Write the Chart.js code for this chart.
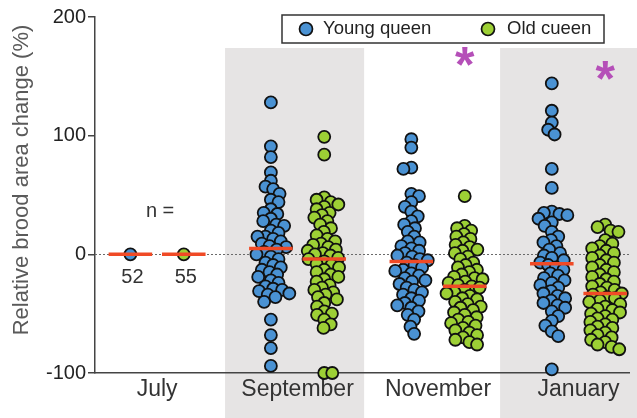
<!DOCTYPE html>
<html>
<head>
<meta charset="utf-8">
<script src="https://cdn.jsdelivr.net/npm/chart.js@4.4.1/dist/chart.umd.min.js"></script>
<style>
html,body{margin:0;padding:0;background:#fff;}
#wrap{width:637px;height:418px;position:relative;}
</style>
</head>
<body>
<div id="wrap"><canvas id="c" width="637" height="418"></canvas></div>
<script>
// ---- data ----
const months = ['July', 'September', 'November', 'January'];
const seriesNames = ['Young queen', 'Old cueen'];
const nLabels = ['52', '55'];
const significant = [false, false, true, true]; // asterisk above old-queen group
const yTicks = [-100, 0, 100, 200];

const youngJuly = [0];
const oldJuly = [0];
const youngSep = [128, 91, 82, 69, 62, 57, 55, 51, 46, 44, 38, 35, 34, 30, 28, 25, 24, 20, 18, 15, 15, 13, 11, 9, 7, 6,
  4, 2, 0, -2, -4, -7, -9, -11, -13, -15, -17, -19, -22, -24, -27, -29, -30, -31, -33, -34, -36, -40, -55, -68, -79, -94];
const oldSep = [99, 84, 48, 46, 44, 42, 40, 38, 35, 33, 31, 28, 25, 22, 19, 16, 13, 11, 9, 8, 6, 4, 3, 1, 0, -1, -3, -4,
  -6, -8, -9, -11, -13, -15, -17, -19, -21, -23, -26, -28, -30, -32, -34, -36, -38, -41, -44, -48, -50, -51, -55, -59, -62, -100, -100];
const youngNov = [97, 90, 73, 72, 51, 49, 44, 40, 36, 32, 28, 25, 22, 19, 15, 11, 10, 7, 5, 3, 1, -1, -2, -4, -5,
  -7, -9, -11, -13, -14, -16, -18, -20, -22, -23, -25, -28, -30, -32, -34, -37, -39, -41, -43, -45, -48, -51, -55, -61, -67];
const oldNov = [49, 24, 22, 20, 17, 15, 13, 10, 8, 6, 4, 3, 1, -2, -4, -7, -9, -11, -13, -15, -17, -19, -20, -21, -23, -24, -26, -27,
  -28, -30, -32, -33, -35, -37, -38, -40, -42, -44, -45, -47, -49, -51, -53, -55, -57, -58, -60, -62, -64, -66, -68, -70, -72, -74, -76];
const youngJan = [144, 121, 111, 105, 101, 72, 56, 36, 35, 34, 33, 30, 27, 24, 19, 15, 12, 10, 7, 4, 1, -1, -3, -5, -7,
  -9, -11, -13, -16, -18, -20, -22, -24, -26, -28, -31, -33, -35, -37, -39, -41, -43, -45, -48, -52, -56, -60, -65, -69, -97];
const oldJan = [25, 23, 20, 19, 12, 9, 7, 5, 3, 1, -1, -3, -5, -7, -9, -11, -13, -15, -17, -19, -21, -23, -25, -27, -28, -30, -32, -33,
  -34, -36, -37, -39, -40, -42, -44, -46, -47, -49, -50, -52, -54, -55, -57, -59, -61, -62, -64, -66, -68, -70, -72, -74, -76, -78, -80];

const youngGroups = [youngJuly, youngSep, youngNov, youngJan];
const oldGroups = [oldJuly, oldSep, oldNov, oldJan];

// ---- style ----
const FONT = '"Liberation Sans", Arial, Helvetica, sans-serif';
const BLUE = '#4a92d3';
const GREEN = '#9dd035';
const RED = '#f04a26';
const BAND = '#e6e4e4';
const PURPLE = '#b54fb8';
const OFF = 0.19;       // group offset from month center (x units)
const HALF = 0.155;     // half width of median bar (x units)

function median(a) {
  const s = [...a].sort((p, q) => p - q);
  const m = Math.floor(s.length / 2);
  return s.length % 2 ? s[m] : (s[m - 1] + s[m]) / 2;
}

function groupPoints(groups, side) {
  const pts = [];
  groups.forEach((g, i) => g.forEach(v => pts.push({ x: i + side * OFF, y: v, g: i })));
  return pts;
}

const medianData = [];
months.forEach((m, i) => {
  [[youngGroups[i], -1], [oldGroups[i], 1]].forEach(([g, side]) => {
    const md = median(g);
    const c = i + side * OFF;
    medianData.push({ x: c - HALF, y: md }, { x: c + HALF, y: md }, { x: c, y: null });
  });
});

const bgPlugin = {
  id: 'bg',
  beforeDraw(chart) {
    const { ctx, scales: { x, y }, chartArea } = chart;
    ctx.save();
    ctx.fillStyle = '#fff';
    ctx.fillRect(0, 0, chart.width, chart.height);
    ctx.fillStyle = BAND;
    const bands = [[0.484, 1.474], [2.442, 3.6]];
    bands.forEach(([a, b]) => {
      const xa = x.getPixelForValue(a), xb = Math.min(x.getPixelForValue(b), chart.width);
      ctx.fillRect(xa, 48, xb - xa, chart.height - 48);
    });
    ctx.restore();
  },
  beforeDatasetsDraw(chart) {
    const { ctx, scales: { x, y }, chartArea } = chart;
    ctx.save();
    ctx.strokeStyle = '#6a6a6a';
    ctx.lineWidth = 1;
    ctx.setLineDash([2, 2]);
    const y0 = Math.round(y.getPixelForValue(0)) + 0.5;
    ctx.beginPath();
    ctx.moveTo(chartArea.left, y0);
    ctx.lineTo(chartArea.right, y0);
    ctx.stroke();
    ctx.restore();
  },
  afterDraw(chart) {
    const { ctx, scales: { x, y } } = chart;
    ctx.save();
    // y title
    ctx.fillStyle = '#5a5a5a';
    ctx.font = '22px ' + FONT;
    ctx.textAlign = 'center';
    ctx.textBaseline = 'middle';
    ctx.translate(22, 180);
    ctx.rotate(-Math.PI / 2);
    ctx.fillText('Relative brood area change (%)', 0, 0);
    ctx.restore();

    ctx.save();
    // n labels
    ctx.fillStyle = '#333';
    ctx.font = '20px ' + FONT;
    ctx.textAlign = 'center';
    ctx.textBaseline = 'middle';
    ctx.fillText('n =', x.getPixelForValue(0) + 3, 211);
    ctx.fillText(nLabels[0], x.getPixelForValue(-OFF) + 2, 277);
    ctx.fillText(nLabels[1], x.getPixelForValue(OFF) + 2, 277);

    // asterisks
    ctx.fillStyle = PURPLE;
    ctx.font = 'bold 50px ' + FONT;
    significant.forEach((s, i) => {
      if (!s) return;
      const m = ctx.measureText('*');
      const cx = x.getPixelForValue(i + OFF);
      const cy = 70;
      ctx.textBaseline = 'alphabetic';
      const asc = m.actualBoundingBoxAscent, desc = m.actualBoundingBoxDescent;
      ctx.fillText('*', cx, cy + (asc - desc) / 2);
    });

    // legend
    ctx.fillStyle = '#fff';
    ctx.fillRect(282, 15, 322, 28);
    ctx.strokeStyle = '#333';
    ctx.lineWidth = 1.5;
    ctx.strokeRect(282, 15, 322, 28);
    const items = [[BLUE, seriesNames[0], 306, 323], [GREEN, seriesNames[1], 488, 507]];
    items.forEach(([col, label, cx, tx]) => {
      ctx.beginPath();
      ctx.arc(cx, 29, 6.5, 0, Math.PI * 2);
      ctx.fillStyle = col;
      ctx.fill();
      ctx.lineWidth = 1.7;
      ctx.strokeStyle = '#111';
      ctx.stroke();
      ctx.fillStyle = '#222';
      ctx.font = '18.5px ' + FONT;
      ctx.textAlign = 'left';
      ctx.textBaseline = 'middle';
      ctx.fillText(label, tx, 29);
    });
    ctx.restore();
  }
};

const chart = new Chart(document.getElementById('c'), {
  type: 'scatter',
  data: {
    datasets: [
      {
        type: 'line', label: 'median', data: medianData, borderColor: RED, borderWidth: 3.5,
        pointRadius: 0, spanGaps: false, order: 0, clip: false
      },
      {
        label: seriesNames[0], data: groupPoints(youngGroups, -1), backgroundColor: BLUE,
        borderColor: '#111', borderWidth: 1.8, pointRadius: 6, order: 1, clip: false
      },
      {
        label: seriesNames[1], data: groupPoints(oldGroups, 1), backgroundColor: GREEN,
        borderColor: '#111', borderWidth: 1.8, pointRadius: 6, order: 2, clip: false
      }
    ]
  },
  options: {
    responsive: false,
    animation: false,
    layout: { padding: { top: 17, right: 0, bottom: 0, left: 0 } },
    plugins: { legend: { display: false }, tooltip: { enabled: false } },
    scales: {
      x: {
        type: 'linear', min: -0.442, max: 3.361,
        afterBuildTicks(s) { s.ticks = months.map((m, i) => ({ value: i })); },
        afterFit(s) { s.height = 45; },
        ticks: {
          callback: v => months[v], font: { family: FONT, size: 23 }, color: '#333', padding: 3,
          maxRotation: 0, autoSkip: false
        },
        grid: { display: true, drawOnChartArea: false, drawTicks: false },
        border: { display: true, color: '#444', width: 1.5 }
      },
      y: {
        min: -100, max: 200,
        afterBuildTicks(s) { s.ticks = yTicks.map(v => ({ value: v })); },
        afterFit(s) { s.width = 95; },
        ticks: { font: { family: FONT, size: 20 }, color: '#222', padding: 2 },
        grid: { display: true, drawOnChartArea: false, drawTicks: true, tickLength: 7, color: '#444', lineWidth: 1.5 },
        border: { display: true, color: '#444', width: 1.5 }
      }
    }
  },
  plugins: [bgPlugin]
});

// beeswarm layout computed from the library's own scales
function swarm(ysPx, minDist) {
  const idx = ysPx.map((y, i) => i).sort((a, b) => ysPx[a] - ysPx[b]);
  const placed = [];
  const xs = new Array(ysPx.length);
  let flip = 1;
  for (const i of idx) {
    const y = ysPx[i];
    const cands = [0];
    for (const p of placed) {
      const dy = Math.abs(p.y - y);
      if (dy < minDist) {
        const dx = Math.sqrt(minDist * minDist - dy * dy);
        cands.push(p.x + dx, p.x - dx);
      }
    }
    cands.sort((a, b) => (Math.abs(a) - Math.abs(b)) || (flip * (a - b)));
    let chosen = 0;
    for (const c of cands) {
      if (placed.every(p => (p.x - c) ** 2 + (p.y - y) ** 2 >= minDist * minDist - 0.01)) { chosen = c; break; }
    }
    if (chosen !== 0) flip = -flip;
    placed.push({ x: chosen, y });
    xs[i] = chosen;
  }
  return xs;
}

function applySwarm() {
  const xs = chart.scales.x, ys = chart.scales.y;
  const pxPerUnit = xs.getPixelForValue(1) - xs.getPixelForValue(0);
  [1, 2].forEach(di => {
    const data = chart.data.datasets[di].data;
    months.forEach((m, gi) => {
      const pts = data.filter(p => p.g === gi);
      const off = swarm(pts.map(p => ys.getPixelForValue(p.y)), 8);
      pts.forEach((p, k) => { p.x = gi + (di === 1 ? -OFF : OFF) + off[k] / pxPerUnit; });
    });
  });
  chart.update('none');
}
applySwarm();
</script>
</body>
</html>
